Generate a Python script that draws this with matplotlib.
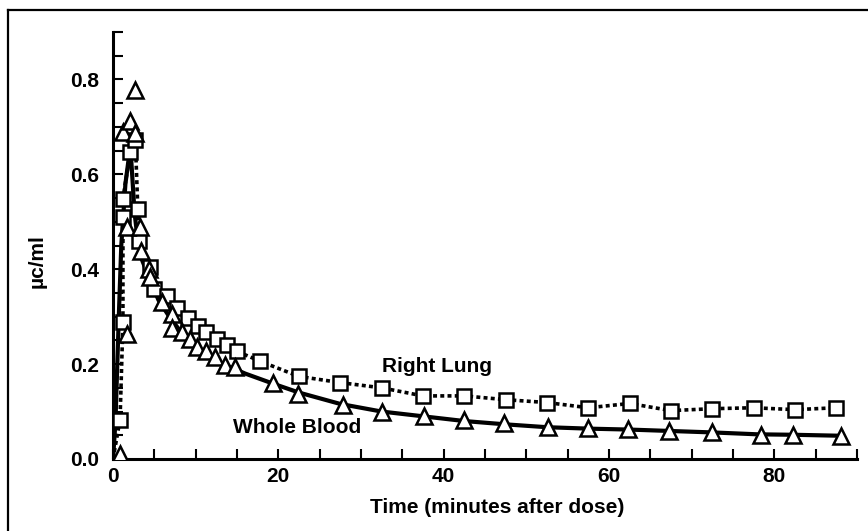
import matplotlib
matplotlib.use("Agg")
import matplotlib.pyplot as plt
from matplotlib.lines import Line2D
from matplotlib.ticker import MultipleLocator, FixedLocator

plt.rcParams['font.family'] = ['Liberation Sans', 'DejaVu Sans']
plt.rcParams['font.weight'] = 'bold'

# Right Lung (squares, dotted line through the points)
lung_t = [0, 0.85, 1.2, 1.2, 1.2, 2.1, 2.7, 3.0, 3.2, 4.5, 4.9, 6.5, 7.7, 9.1, 10.3,
          11.3, 12.6, 13.8, 15.0, 17.8, 22.5, 27.5, 32.5, 37.5, 42.5, 47.5, 52.5,
          57.5, 62.5, 67.5, 72.5, 77.5, 82.5, 87.5]
lung_y = [0, 0.083, 0.288, 0.51, 0.549, 0.648, 0.672, 0.527, 0.46, 0.404, 0.358,
          0.344, 0.319, 0.298, 0.280, 0.267, 0.252, 0.241, 0.227, 0.206, 0.174,
          0.161, 0.150, 0.133, 0.133, 0.125, 0.119, 0.108, 0.117, 0.102, 0.106,
          0.108, 0.104, 0.108]

# Whole Blood (triangles)
blood_t = [0.85, 1.2, 1.66, 1.7, 2.1, 2.7, 2.6, 3.27, 3.4, 4.3, 4.5, 5.9, 7.1, 7.1,
           8.3, 9.3, 10.1, 11.3, 12.3, 13.6, 14.8, 19.4, 22.4, 27.8, 32.6, 37.6,
           42.4, 47.3, 52.6, 57.5, 62.3, 67.2, 72.5, 78.4, 82.3, 88.1]
blood_y = [0.01, 0.69, 0.263, 0.489, 0.712, 0.777, 0.688, 0.489, 0.439, 0.40, 0.383,
           0.330, 0.305, 0.277, 0.267, 0.252, 0.237, 0.227, 0.216, 0.199, 0.193,
           0.161, 0.138, 0.114, 0.100, 0.091, 0.083, 0.076, 0.068, 0.066, 0.064,
           0.059, 0.057, 0.051, 0.051, 0.049]

# fitted whole blood curve (solid)
curve_t = [0, 0.3, 0.7, 1.0, 1.5, 2.1, 2.6, 3.0, 3.5, 4.3, 5.5, 7, 8.5, 10, 12, 14,
           16, 19.5, 22.5, 27.5, 32.5, 37.5, 42.5, 47.5, 52.5, 57.5, 62.5, 67.5,
           72.5, 78, 82.5, 88]
curve_y = [0, 0.08, 0.30, 0.45, 0.58, 0.66, 0.52, 0.46, 0.42, 0.385, 0.335, 0.295,
           0.262, 0.237, 0.212, 0.195, 0.18, 0.158, 0.14, 0.116, 0.10, 0.09, 0.08,
           0.073, 0.067, 0.064, 0.062, 0.059, 0.056, 0.052, 0.051, 0.049]

fig = plt.figure(figsize=(8.68, 5.31), dpi=100)
ax = fig.add_axes([0.1302, 0.1356, 0.8571, 0.8041])

ax.plot(lung_t, lung_y, color='black', lw=2.6, linestyle=(0, (1.1, 0.9)),
        dash_capstyle='butt', zorder=2)
ax.plot(curve_t, curve_y, color='black', lw=3.0, zorder=2)
ax.plot(lung_t[1:], lung_y[1:], linestyle='none', marker='s', ms=10,
        mfc='white', mec='black', mew=1.8, zorder=3)
ax.plot(blood_t, blood_y, linestyle='none', marker='^', ms=11,
        mfc='white', mec='black', mew=1.8, zorder=4)

ax.text(39.2, 0.195, 'Right Lung', fontsize=15, fontweight='bold',
        ha='center', va='center')
ax.text(22.25, 0.066, 'Whole Blood', fontsize=15, fontweight='bold',
        ha='center', va='center')

ax.set_xlim(0, 90)
ax.set_ylim(0, 0.9)
ax.xaxis.set_major_locator(FixedLocator([0, 20, 40, 60, 80]))
ax.xaxis.set_minor_locator(MultipleLocator(5))
ax.yaxis.set_major_locator(FixedLocator([0, 0.2, 0.4, 0.6, 0.8]))
ax.yaxis.set_minor_locator(MultipleLocator(0.05))
ax.set_yticklabels(['0.0', '0.2', '0.4', '0.6', '0.8'])

for s in ['top', 'right']:
    ax.spines[s].set_visible(False)
for s in ['left', 'bottom']:
    ax.spines[s].set_linewidth(2.2)

ax.tick_params(axis='both', which='both', direction='in', length=7, width=1.5)
ax.tick_params(axis='x', which='major', pad=6, labelsize=15)
ax.tick_params(axis='y', which='major', pad=10, labelsize=15)
for lab in ax.get_xticklabels() + ax.get_yticklabels():
    lab.set_fontweight('bold')

ax.set_xlabel('Time (minutes after dose)', fontsize=15, fontweight='bold')
ax.xaxis.set_label_coords(0.517, -0.092)
ax.set_ylabel('µc/ml', fontsize=15, fontweight='bold')
ax.yaxis.set_label_coords(-0.089, 0.464)

# outer frame (top and left edges)
fig.add_artist(Line2D([0.0092, 1.0], [0.981, 0.981], color='black', lw=1.6,
                      transform=fig.transFigure))
fig.add_artist(Line2D([0.0092, 0.0092], [0.0, 0.981], color='black', lw=1.6,
                      transform=fig.transFigure))

fig.savefig('out.png', dpi=100)
